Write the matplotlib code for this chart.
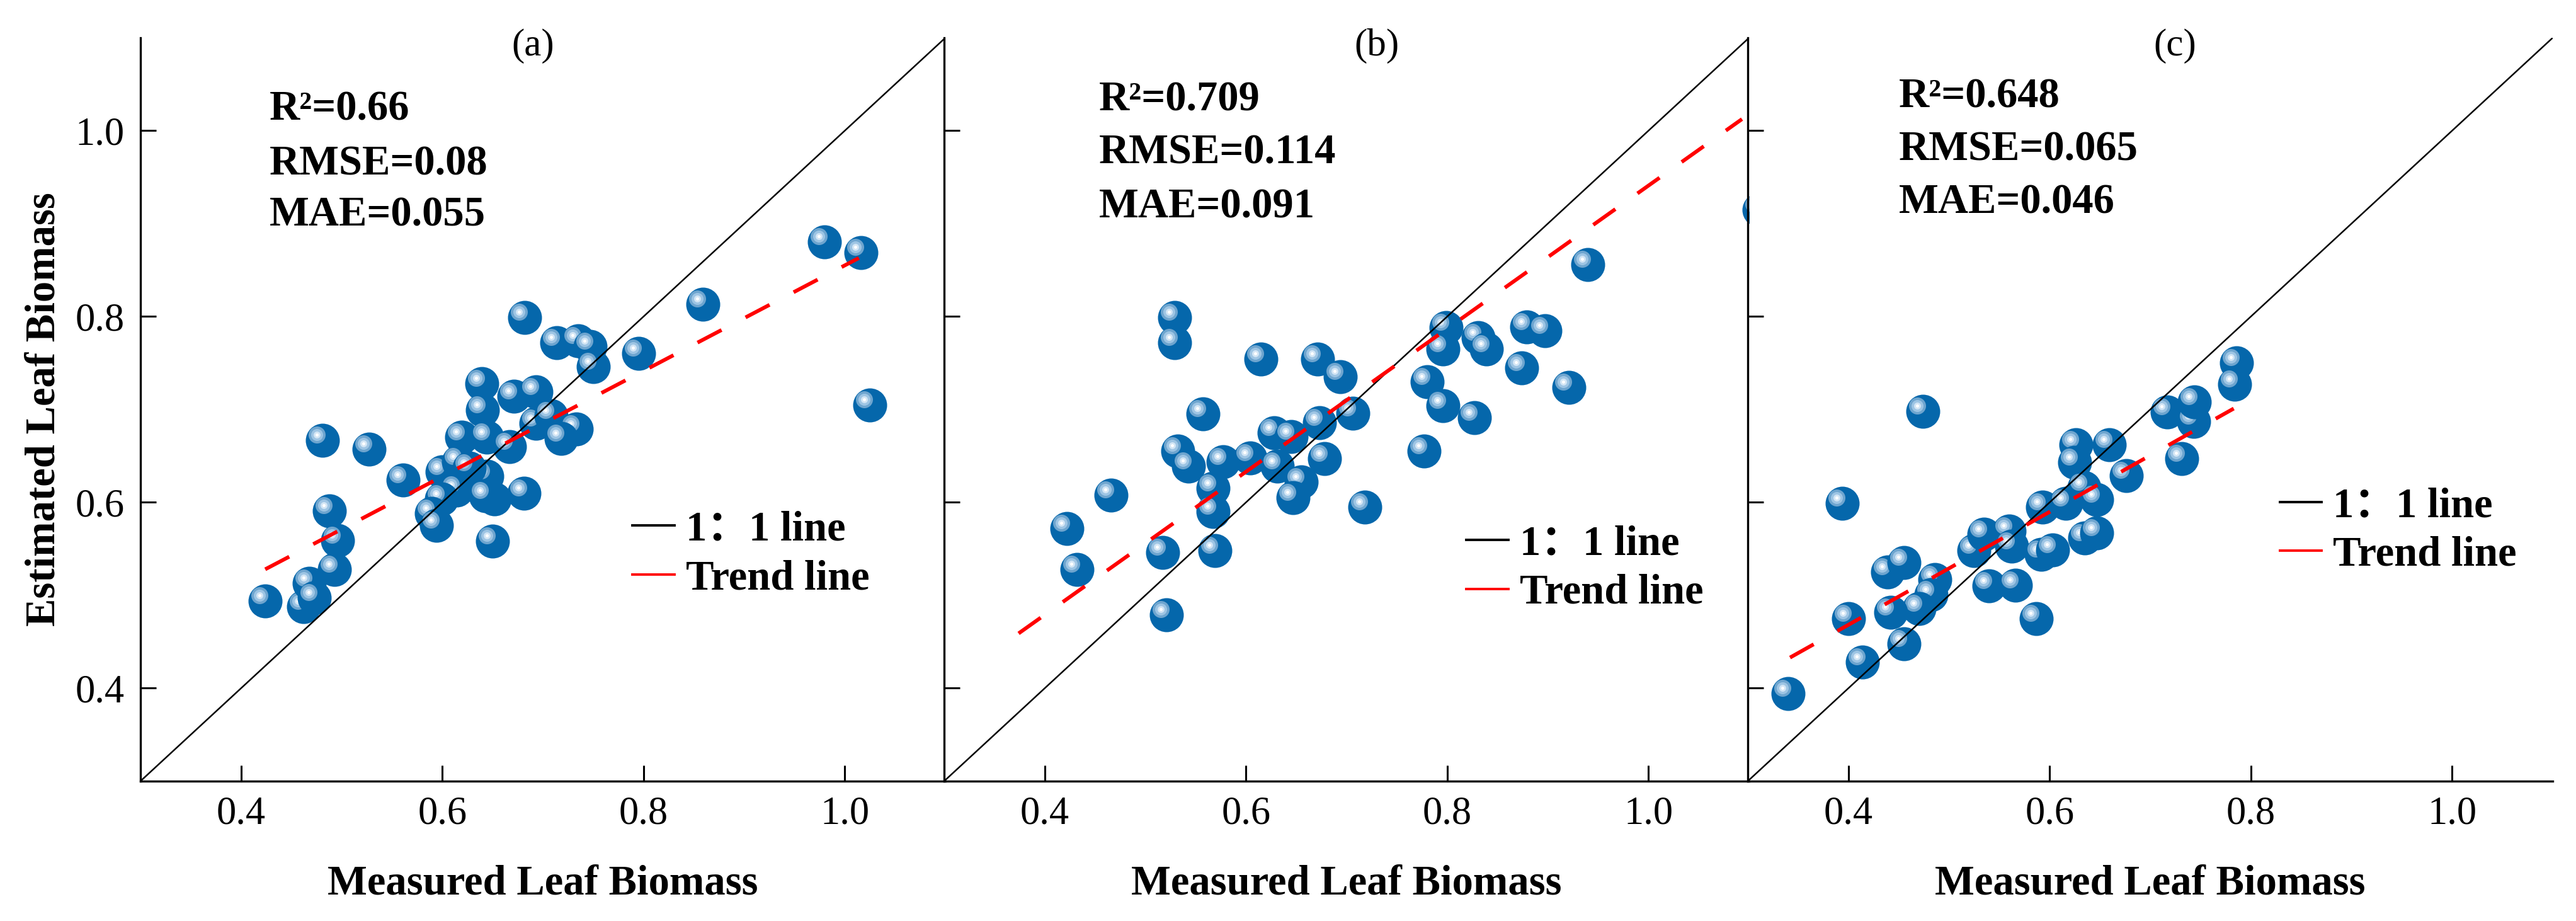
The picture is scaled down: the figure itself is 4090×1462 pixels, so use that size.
import matplotlib
matplotlib.use("Agg")
import matplotlib.pyplot as plt
from matplotlib.lines import Line2D
from matplotlib.transforms import ScaledTranslation

plt.rcParams['font.family'] = ['Liberation Serif', 'Noto Sans CJK SC', 'DejaVu Sans']
plt.rcParams['lines.scale_dashes'] = False

# Data (measured, estimated)
a_meas = [0.424, 0.481, 0.527, 0.561, 0.488, 0.496, 0.493, 0.462, 0.468, 0.473,
          0.682, 0.795, 0.859, 0.980, 1.016, 1.025, 0.714, 0.735, 0.747, 0.750,
          0.650, 0.681, 0.639, 0.640, 0.671, 0.693, 0.619, 0.644, 0.667, 0.693,
          0.708, 0.733, 0.718, 0.600, 0.616, 0.644, 0.627, 0.614, 0.599, 0.652,
          0.643, 0.589, 0.594]
a_est = [0.494, 0.667, 0.657, 0.624, 0.591, 0.559, 0.528, 0.488, 0.513, 0.497,
         0.799, 0.760, 0.813, 0.880, 0.869, 0.705, 0.772, 0.774, 0.768, 0.746,
         0.558, 0.610, 0.728, 0.699, 0.714, 0.719, 0.670, 0.670, 0.660, 0.685,
         0.693, 0.679, 0.669, 0.633, 0.644, 0.628, 0.637, 0.613, 0.604, 0.604,
         0.607, 0.588, 0.575]

b_meas = [0.422, 0.432, 0.466, 0.517, 0.521, 0.529, 0.529, 0.557, 0.532, 0.543,
          0.577, 0.604, 0.567, 0.567, 0.569, 0.628, 0.645, 0.631, 0.655, 0.647,
          0.615, 0.671, 0.694, 0.673, 0.706, 0.678, 0.718, 0.777, 0.780, 0.796,
          0.827, 0.799, 0.796, 0.831, 0.839, 0.879, 0.897, 0.874, 0.921, 0.940,
          1.110]
b_est = [0.572, 0.528, 0.608, 0.546, 0.479, 0.799, 0.772, 0.695, 0.655, 0.639,
         0.644, 0.648, 0.615, 0.590, 0.548, 0.675, 0.671, 0.639, 0.622, 0.605,
         0.754, 0.754, 0.735, 0.686, 0.696, 0.647, 0.595, 0.655, 0.730, 0.704,
         0.691, 0.788, 0.765, 0.777, 0.765, 0.789, 0.785, 0.745, 0.724, 0.856,
         0.915]

c_meas = [0.340, 0.414, 0.400, 0.394, 0.474, 0.439, 0.455, 0.486, 0.482, 0.470,
          0.442, 0.455, 0.525, 0.535, 0.560, 0.562, 0.540, 0.566, 0.587, 0.593,
          0.616, 0.592, 0.603, 0.626, 0.659, 0.625, 0.676, 0.634, 0.647, 0.635,
          0.647, 0.717, 0.743, 0.744, 0.731, 0.786, 0.784]
c_est = [0.394, 0.428, 0.475, 0.599, 0.698, 0.525, 0.535, 0.517, 0.501, 0.486,
         0.482, 0.448, 0.548, 0.566, 0.569, 0.553, 0.510, 0.511, 0.475, 0.595,
         0.599, 0.544, 0.549, 0.662, 0.662, 0.643, 0.629, 0.616, 0.603, 0.562,
         0.567, 0.697, 0.687, 0.708, 0.647, 0.750, 0.727]

# trend line end points
trend_x = [[0.424, 1.014], [0.374, 1.093], [0.342, 0.783]]
trend_y = [[0.528, 0.863], [0.459, 1.0125], [0.433, 0.701]]

panel_tags = ['(a)', '(b)', '(c)']
r2 = ['0.66', '0.709', '0.648']
rmse = ['0.08', '0.114', '0.065']
mae = ['0.055', '0.091', '0.046']

ticks = [0.4, 0.6, 0.8, 1.0]
tick_labels = ['0.4', '0.6', '0.8', '1.0']

meas_all = [a_meas, b_meas, c_meas]
est_all = [a_est, b_est, c_est]

# layout (figure fractions)
lefts = [0.05451, 0.36642, 0.67832]
bottom, width, height = 0.15185, 0.31239, 0.80711
tag_x = [0.4875, 0.5376, 0.531]
stat_x = [0.160, 0.192, 0.188]
stat_y = [[0.889, 0.816, 0.747], [0.9025, 0.831, 0.758], [0.906, 0.835, 0.764]]
leg_xy = [(0.611, 0.305), (0.649, 0.286), (0.661, 0.337)]

blue = '#0567ab'
hl_layers = [(27, '#6ea5cf'), (19, '#9ec5e4'), (11, '#d4e6f5'), (5, 'white')]

fig = plt.figure(figsize=(40.91, 14.62), dpi=100)


def px2s(px):
    return (px * 0.72) ** 2


for k in range(3):
    ax = fig.add_axes([lefts[k], bottom, width, height])
    ax.set_facecolor('none')
    ax.set_xlim(0.3, 1.1)
    ax.set_ylim(0.3, 1.1)
    for side in ['top', 'right']:
        ax.spines[side].set_visible(False)
    for side in ['left', 'bottom']:
        ax.spines[side].set_linewidth(2.4)
    ax.set_xticks(ticks)
    ax.set_xticklabels(tick_labels)
    ax.set_yticks(ticks)
    if k == 0:
        ax.set_yticklabels(tick_labels)
    else:
        ax.set_yticklabels([])
    ax.tick_params(direction='in', length=18, width=2.2, labelsize=45)
    ax.tick_params(axis='x', pad=17)
    ax.tick_params(axis='y', pad=18)

    # sphere-like markers
    hl_shift = ax.transData + ScaledTranslation(-9 / 100, 9 / 100, fig.dpi_scale_trans)
    for i, (xv, yv) in enumerate(zip(meas_all[k], est_all[k])):
        z = 2 + i * 0.01
        ax.scatter([xv], [yv], s=px2s(54), color=blue, linewidths=0, zorder=z)
        for j, (d, col) in enumerate(hl_layers):
            ax.scatter([xv], [yv], s=px2s(d), color=col, linewidths=0,
                       transform=hl_shift, zorder=z + 0.001 * (j + 1))

    ax.plot([0.3, 1.1], [0.3, 1.1], color='black', lw=1.8, zorder=5)
    ax.plot(trend_x[k], trend_y[k], color='#ff0000', lw=4.3,
            dashes=(31, 31), zorder=6)

    ax.text(tag_x[k], 0.989, panel_tags[k], transform=ax.transAxes,
            ha='center', va='center', fontsize=44)
    stats = ['R²=' + r2[k], 'RMSE=' + rmse[k], 'MAE=' + mae[k]]
    for s, yy in zip(stats, stat_y[k]):
        ax.text(stat_x[k], yy, s, transform=ax.transAxes, ha='left',
                va='baseline', fontsize=48, fontweight='bold')

    handles = [Line2D([], [], color='black', lw=2.8),
               Line2D([], [], color='#ff0000', lw=2.8)]
    ax.legend(handles, ['1：1 line', 'Trend line'], loc='center left',
              bbox_to_anchor=leg_xy[k], frameon=False, handlelength=1.0,
              handletextpad=0.27, labelspacing=0.25, borderpad=0,
              borderaxespad=0, prop={'size': 48, 'weight': 'bold'})

    ax.set_xlabel('Measured Leaf Biomass', fontsize=48, fontweight='bold')
    ax.xaxis.set_label_coords(0.5, -0.112)
    if k == 0:
        ax.set_ylabel('Estimated Leaf Biomass', fontsize=48, fontweight='bold')
        ax.yaxis.set_label_coords(-0.096, 0.5)

fig.savefig('out.png', dpi=100)
